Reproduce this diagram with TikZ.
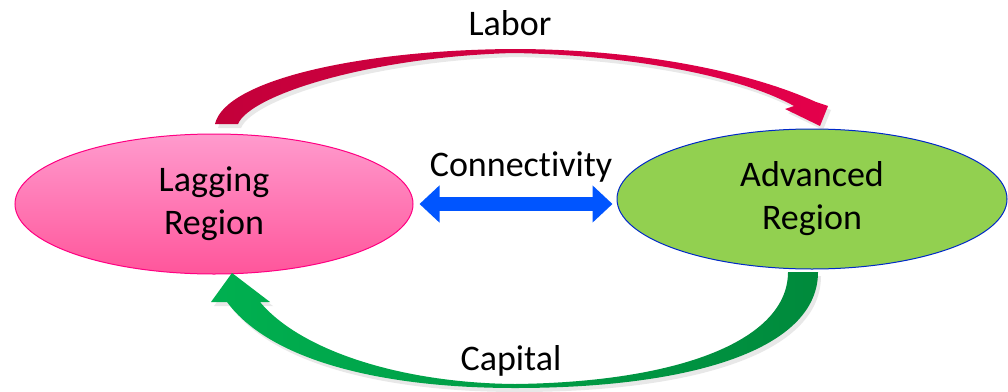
\documentclass[tikz,border=0pt]{standalone}
\usepackage{fontspec}
\setmainfont{Carlito}[Ligatures=NoCommon]
\usetikzlibrary{positioning,arrows.meta,shapes.geometric,shadows}
\definecolor{lagpink}{RGB}{255,155,205}
\definecolor{lagdeep}{RGB}{255,85,155}
\definecolor{lagline}{RGB}{255,0,130}
\definecolor{advgreen}{RGB}{146,208,80}
\definecolor{advline}{RGB}{0,40,200}
\definecolor{laborred}{RGB}{228,0,75}
\definecolor{labordark}{RGB}{195,0,58}
\definecolor{capgreen}{RGB}{0,176,80}
\definecolor{capdark}{RGB}{0,138,60}
\definecolor{connblue}{RGB}{0,85,255}

\begin{document}
\begin{tikzpicture}[
			x=1pt, y=-1pt,
			every node/.style = {font=\fontsize{36}{43}\selectfont},
			region/.style = {ellipse, align=center, inner sep=0pt, minimum width=398pt, minimum height=140pt, line width=1pt},
			flow/.style = {drop shadow={shadow xshift=3pt, shadow yshift=-4pt, opacity=0.18}},
			conn/.style = {connblue, line width=14pt, {Triangle[length=20pt,width=36pt]}-{Triangle[length=20pt,width=36pt]}}
		]
		\useasboundingbox (0,0) rectangle (1008,391);
		% Regions.
		\node[region, draw=lagline, top color=lagpink, bottom color=lagdeep] (lag) at (214,204) {Lagging\\Region};
		\node[region, draw=advline, fill=advgreen, minimum width=390pt] (adv) at (812,199) {Advanced\\Region};
		% Labels.
		\node[anchor=base] (labor) at (510,35) {Labor};
		\node[anchor=base] (connect) at (521,176) {Connectivity};
		\node[anchor=base] (capital) at (511,370) {Capital};

		% Labor: lagging -> advanced.
		\path[flow, left color=labordark, middle color=laborred, right color=laborred]
			(215,124) .. controls (225,80) and (360,50) .. (513,49)
			.. controls (640,49) and (750,72) .. (816,102) -- (828,106) -- (820,126) -- (785,109) -- (794,106)
			.. controls (740,76) and (630,55) .. (513,53)
			.. controls (370,57) and (250,95) .. (238,124) -- cycle;
		% Capital: advanced -> lagging.
		\path[flow, left color=capgreen, middle color=capgreen, right color=capdark]
			(818,272) .. controls (818,350) and (690,388) .. (515,388)
			.. controls (380,388) and (270,360) .. (227,302) -- (211,302) -- (232,273) -- (270,302) -- (260,302)
			.. controls (300,350) and (400,383) .. (515,384)
			.. controls (680,382) and (788,340) .. (788,272) -- cycle;
		% Connectivity.
		\draw[conn] ([xshift=6pt]lag.east) -- ([xshift=-4pt]lag.east -| adv.west);
	\end{tikzpicture}
\end{document}
